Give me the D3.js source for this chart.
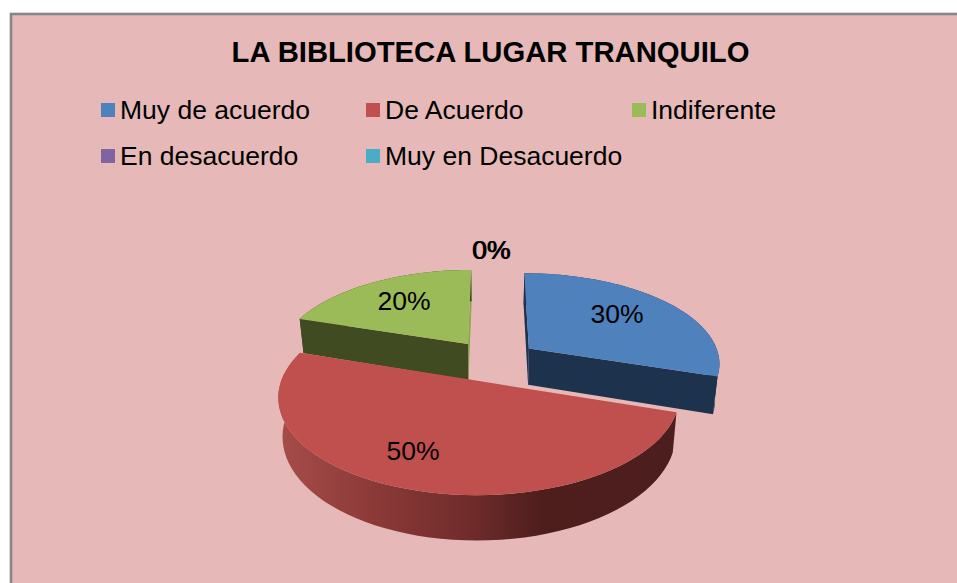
<!DOCTYPE html>
<html><head><meta charset="utf-8">
<script src="https://cdn.jsdelivr.net/npm/d3@7"></script>
<style>html,body{margin:0;padding:0;background:#fff;overflow:hidden}svg{display:block}text{font-family:"Liberation Sans",Arial,sans-serif;fill:#000}</style>
</head><body><svg id="c" width="957" height="583"></svg>
<script>
const categories = ["Muy de acuerdo","De Acuerdo","Indiferente","En desacuerdo","Muy en Desacuerdo"];
const values = [30,50,20,0,0];
const colors = ["#4F81BD","#C0504D","#9BBB59","#8064A2","#4BACC6"];
const sideColors = ["#1D324D","#000","#404B21"];
const chartTitle = "LA BIBLIOTECA LUGAR TRANQUILO";
const labelSpots = [[617,323],[413,460],[404,310],[491,259],[492,259]];
const legendSpots = [[101,103],[366,103],[632,103],[101,149],[366,149]];

const svg = d3.select("#c");
const defs = svg.append("defs");
const grad = defs.append("linearGradient").attr("id","rim").attr("gradientUnits","userSpaceOnUse")
  .attr("x1",280).attr("x2",675).attr("y1",0).attr("y2",0);
[[0,"#A64C49"],[0.25,"#8A3937"],[0.48,"#6F2C2B"],[0.66,"#4E1E1D"],[1,"#4C1E1D"]].forEach(s=>
  grad.append("stop").attr("offset",s[0]).attr("stop-color",s[1]));

svg.append("rect").attr("x",11).attr("y",14).attr("width",1000).attr("height",640)
  .attr("fill","#E6B9B8").attr("stroke","#868686").attr("stroke-width",2.6);
svg.append("text").attr("x",490.5).attr("y",62).attr("text-anchor","middle")
  .attr("font-size",29.25).attr("font-weight","bold").text(chartTitle);

categories.forEach((c,i)=>{
  const [x,y]=legendSpots[i];
  svg.append("rect").attr("x",x).attr("y",y).attr("width",14).attr("height",14).attr("fill",colors[i]);
  svg.append("text").attr("x",x+19).attr("y",y+16).attr("font-size",26.5).text(c);
});

// tilted-disc projection
const cx=493.5, cy=360.5, a=191.5, d=89.9, h=-0.151, depth=37, explode=0.233, shrink=0.98, vx=490;
function pt(theta,r,slice,lower){
  const m=(slice.startAngle+slice.endAngle)/2;
  const p=r*Math.sin(theta)+explode*Math.sin(m), q=-r*Math.cos(theta)-explode*Math.cos(m);
  const w=1+h*q;
  let x=cx+a*p/w, y=cy+d*q/w;
  if(lower){ x=vx+(x-vx)*shrink; y+=depth/w; }
  return [x,y];
}
const slices=d3.pie().sort(null).startAngle(0).endAngle(2*Math.PI)(values);
const line=d3.line();
const arcPts=(s,lower)=>d3.range(0,61).map(i=>pt(s.startAngle+(s.endAngle-s.startAngle)*i/60,1,s,lower));

function drawSlice(i){
  const s=slices[i], fill=colors[i], side=sideColors[i];
  const apexT=pt(0,0,s,false), apexB=pt(0,0,s,true);
  const top=arcPts(s,false), bot=arcPts(s,true);
  if(i!==1){
    const g=svg.append("g");
    g.append("path").attr("d",line([apexT,top[60],bot[60],apexB])+"Z").attr("fill",i===2?"#8AA64E":side);
    g.append("path").attr("d",line(top.concat(bot.slice().reverse()))+"Z").attr("fill",side);
    g.append("path").attr("d",line([apexT,top[0],bot[0],apexB])+"Z").attr("fill",side);
  } else {
    svg.append("path").attr("d",line(top.concat(bot.slice().reverse()))+"Z").attr("fill","url(#rim)");
  }
  svg.append("path").attr("d",line([apexT].concat(top))+"Z").attr("fill",fill);
}
[2,0,1].forEach(drawSlice);

values.forEach((v,i)=>{
  const [x,y]=labelSpots[i];
  svg.append("text").attr("x",x).attr("y",y).attr("text-anchor","middle").attr("font-size",26.5).text(v+"%");
});
</script></body></html>
